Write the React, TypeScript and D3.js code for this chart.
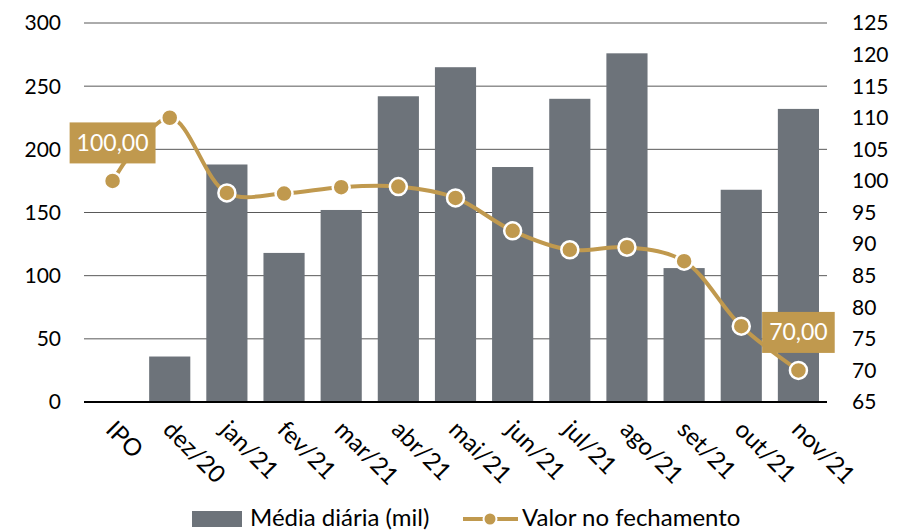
import { useEffect, useRef } from 'react'
import * as d3 from 'd3'

const categories = ['IPO', 'dez/20', 'jan/21', 'fev/21', 'mar/21', 'abr/21', 'mai/21', 'jun/21', 'jul/21', 'ago/21', 'set/21', 'out/21', 'nov/21']
const mediaDiaria = [null, 36, 188, 118, 152, 242, 265, 186, 240, 276, 106, 168, 232]
const valorFechamento = [100, 110, 98.1, 98, 99, 99.1, 97.3, 92.1, 89.1, 89.5, 87.3, 77, 70]
const leftTicks = [0, 50, 100, 150, 200, 250, 300]
const rightTicks = [65, 70, 75, 80, 85, 90, 95, 100, 105, 110, 115, 120, 125]
const labelled = [{ i: 0, text: '100,00' }, { i: 12, text: '70,00' }]

const W = 899
const H = 532
const GOLD = '#C0994E'
const BAR = '#6D737A'
const FONT = 'Lato, "Open Sans", sans-serif'

export default function App() {
  const svgRef = useRef<SVGSVGElement>(null)

  useEffect(() => {
    const svg = d3.select(svgRef.current)
    svg.selectAll('*').remove()

    const left = 84, right = 827, top = 23, bottom = 402

    const x = d3.scaleBand().domain(categories).range([left, right]).paddingInner(0.28).paddingOuter(0.14)
    const xc = (c: string) => (x(c) as number) + x.bandwidth() / 2
    const yL = d3.scaleLinear().domain([0, 300]).range([bottom, top])
    const yR = d3.scaleLinear().domain([65, 125]).range([bottom, top])

    // gridlines
    svg.append('g')
      .selectAll('line')
      .data(leftTicks.filter(t => t > 0))
      .join('line')
      .attr('x1', left).attr('x2', right)
      .attr('y1', d => yL(d)).attr('y2', d => yL(d))
      .attr('stroke', '#595959').attr('stroke-width', 1)

    // bars
    const bars = categories.map((c, i) => ({ c, v: mediaDiaria[i] })).filter(d => d.v != null)
    svg.append('g')
      .selectAll('rect')
      .data(bars)
      .join('rect')
      .attr('x', d => x(d.c) as number)
      .attr('y', d => yL(d.v as number))
      .attr('width', x.bandwidth())
      .attr('height', d => bottom - yL(d.v as number))
      .attr('fill', BAR)

    // baseline
    svg.append('line')
      .attr('x1', left).attr('x2', right)
      .attr('y1', bottom).attr('y2', bottom)
      .attr('stroke', '#000').attr('stroke-width', 2)

    // left axis labels
    svg.append('g')
      .selectAll('text')
      .data(leftTicks)
      .join('text')
      .attr('x', 61)
      .attr('y', d => yL(d))
      .attr('dy', '0.35em')
      .attr('text-anchor', 'end')
      .style('font-family', FONT).style('font-size', '21px').attr('fill', '#000')
      .text(d => d)

    // right axis labels
    svg.append('g')
      .selectAll('text')
      .data(rightTicks)
      .join('text')
      .attr('x', 852)
      .attr('y', d => yR(d))
      .attr('dy', '0.35em')
      .attr('text-anchor', 'start')
      .style('font-family', FONT).style('font-size', '21px').attr('fill', '#000')
      .text(d => d)

    // x labels
    svg.append('g')
      .selectAll('text')
      .data(categories)
      .join('text')
      .attr('transform', d => `translate(${xc(d) - 8},${bottom + 29}) rotate(45)`)
      .attr('text-anchor', 'start')
      .style('font-family', FONT).style('font-size', '24px').attr('fill', '#000')
      .text(d => d)

    // line
    const pts = categories.map((c, i) => ({ c, v: valorFechamento[i] }))
    const line = d3.line<{ c: string; v: number }>()
      .x(d => xc(d.c))
      .y(d => yR(d.v))
      .curve(d3.curveCatmullRom.alpha(0.5))
    svg.append('path')
      .datum(pts)
      .attr('d', line)
      .attr('fill', 'none')
      .attr('stroke', GOLD)
      .attr('stroke-width', 4)

    svg.append('g')
      .selectAll('circle')
      .data(pts)
      .join('circle')
      .attr('cx', d => xc(d.c))
      .attr('cy', d => yR(d.v))
      .attr('r', 8.5)
      .attr('fill', GOLD)
      .attr('stroke', '#fff')
      .attr('stroke-width', 2.5)

    // data labels
    labelled.forEach(l => {
      const cx = xc(categories[l.i])
      const cy = yR(valorFechamento[l.i]) - 38
      const g = svg.append('g')
      const t = g.append('text')
        .attr('x', cx).attr('y', cy).attr('dy', '0.35em')
        .attr('text-anchor', 'middle')
        .style('font-family', FONT).style('font-size', '23px').attr('fill', '#fff')
        .text(l.text)
      const bb = (t.node() as SVGTextElement).getBBox()
      g.insert('rect', 'text')
        .attr('x', bb.x - 7).attr('y', cy - 20.5)
        .attr('width', bb.width + 14).attr('height', 41)
        .attr('fill', GOLD)
    })

    // legend
    const lg = svg.append('g')
    lg.append('rect').attr('x', 192).attr('y', 511).attr('width', 50).attr('height', 16).attr('fill', BAR)
    lg.append('text').attr('x', 250).attr('y', 526)
      .style('font-family', FONT).style('font-size', '24px').attr('fill', '#000')
      .text('Média diária (mil)')
    lg.append('line').attr('x1', 463).attr('x2', 518).attr('y1', 519).attr('y2', 519)
      .attr('stroke', GOLD).attr('stroke-width', 4)
    lg.append('circle').attr('cx', 490).attr('cy', 519).attr('r', 6.5)
      .attr('fill', GOLD).attr('stroke', '#fff').attr('stroke-width', 2)
    lg.append('text').attr('x', 522).attr('y', 526)
      .style('font-family', FONT).style('font-size', '24px').attr('fill', '#000')
      .text('Valor no fechamento')
  }, [])

  return (
    <div style={{ position: 'fixed', left: 0, top: 0, width: W, height: H, background: '#fff' }}>
      <svg ref={svgRef} width={W} height={H} />
    </div>
  )
}
